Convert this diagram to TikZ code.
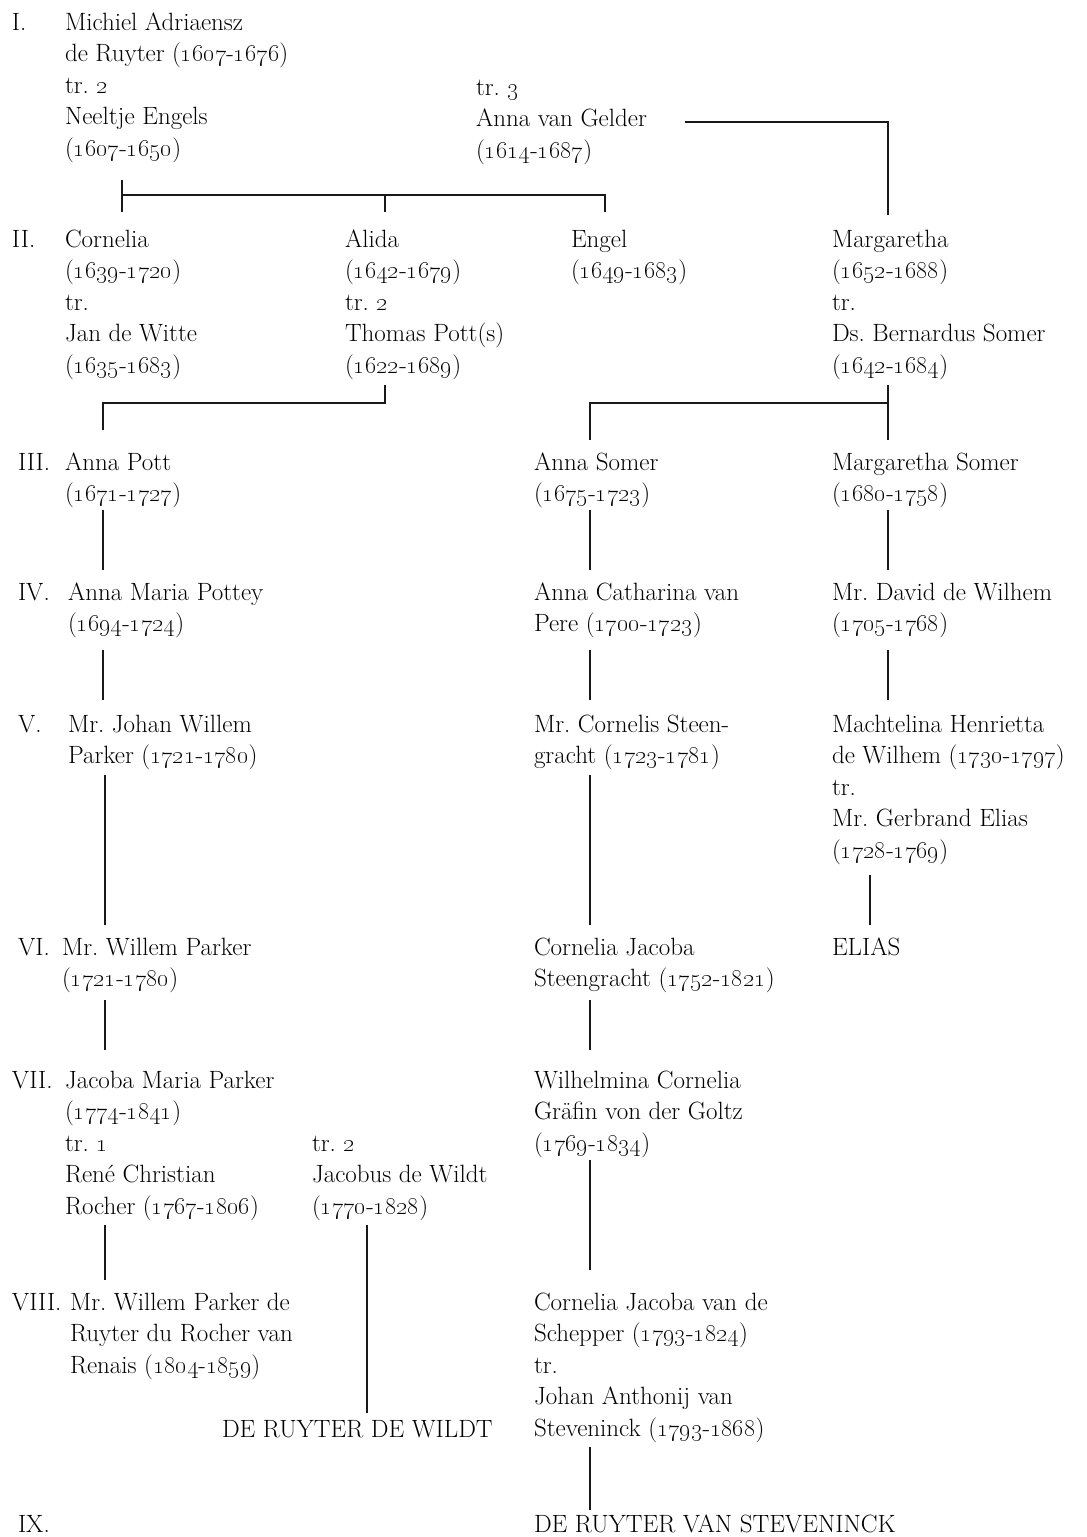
\documentclass[tikz,border=0pt]{standalone}
\begin{document}
\frenchspacing
\newcommand{\yrs}[2]{(\oldstylenums{#1}-\oldstylenums{#2})}
\newcommand{\osn}[1]{\oldstylenums{#1}}
\begin{tikzpicture}[x=1pt,y=-1pt,
  blk/.style={anchor=north west, inner sep=0pt, outer sep=0pt, align=left,
    font=\fontsize{25}{31.5}\selectfont\frenchspacing, text=black},
  ln/.style={line width=2.5pt, black!90}]
\useasboundingbox (0,0) rectangle (1087,1537);
% generation numerals
\node[blk] (g1) at (12,8) {\strut I.};
\node[blk] (g2) at (12,225) {\strut II.};
\node[blk] (g3) at (18,448) {\strut III.};
\node[blk] (g4) at (18,578) {\strut IV.};
\node[blk] (g5) at (18,710) {\strut V.};
\node[blk] (g6) at (18,933) {\strut VI.};
\node[blk] (g7) at (12,1066) {\strut VII.};
\node[blk] (g8) at (12,1288) {\strut VIII.};
\node[blk] (g9) at (18,1510) {\strut IX.};
% people
\node[blk] (michiel) at (65,8) {\strut Michiel Adriaensz\\de Ruyter \yrs{1607}{1676}\\tr.\ \osn{2}\\Neeltje Engels\\\yrs{1607}{1650}};
\node[blk] (gelder) at (476,73) {\strut tr.\ \osn{3}\\Anna van Gelder\\\yrs{1614}{1687}};
\node[blk] (cornelia) at (65,225) {\strut Cornelia\\\yrs{1639}{1720}\\tr.\\Jan de Witte\\\yrs{1635}{1683}};
\node[blk] (alida) at (345,225) {\strut Alida\\\yrs{1642}{1679}\\tr.\ \osn{2}\\Thomas Pott(s)\\\yrs{1622}{1689}};
\node[blk] (engel) at (571,225) {\strut Engel\\\yrs{1649}{1683}};
\node[blk] (marg) at (832,225) {\strut Margaretha\\\yrs{1652}{1688}\\tr.\\Ds.\ Bernardus Somer\\\yrs{1642}{1684}};
\node[blk] (annapott) at (65,448) {\strut Anna Pott\\\yrs{1671}{1727}};
\node[blk] (annasomer) at (534,448) {\strut Anna Somer\\\yrs{1675}{1723}};
\node[blk] (margsomer) at (832,448) {\strut Margaretha Somer\\\yrs{1680}{1758}};
\node[blk] (pottey) at (68,578) {\strut Anna Maria Pottey\\\yrs{1694}{1724}};
\node[blk] (catharina) at (534,578) {\strut Anna Catharina van\\Pere \yrs{1700}{1723}};
\node[blk] (david) at (832,578) {\strut Mr.\ David de Wilhem\\\yrs{1705}{1768}};
\node[blk] (johan) at (68,710) {\strut Mr.\ Johan Willem\\Parker \yrs{1721}{1780}};
\node[blk] (cornelis) at (534,710) {\strut Mr.\ Cornelis Steen-\\gracht \yrs{1723}{1781}};
\node[blk] (machtelina) at (832,710) {\strut Machtelina Henrietta\\de Wilhem \yrs{1730}{1797}\\tr.\\Mr.\ Gerbrand Elias\\\yrs{1728}{1769}};
\node[blk] (willem) at (62,933) {\strut Mr.\ Willem Parker\\\yrs{1721}{1780}};
\node[blk] (cjacoba) at (534,933) {\strut Cornelia Jacoba\\Steengracht \yrs{1752}{1821}};
\node[blk] (elias) at (832,933) {\strut ELIAS};
\node[blk] (jacoba) at (65,1066) {\strut Jacoba Maria Parker\\\yrs{1774}{1841}\\tr.\ \osn{1}\\Ren\'e Christian\\Rocher \yrs{1767}{1806}};
\node[blk] (wildt) at (312,1129) {\strut tr.\ \osn{2}\\Jacobus de Wildt\\\yrs{1770}{1828}};
\node[blk] (wilhelmina) at (534,1066) {\strut Wilhelmina Cornelia\\Gr\"afin von der Goltz\\\yrs{1769}{1834}};
\node[blk] (wpr) at (70,1288) {\strut Mr.\ Willem Parker de\\Ruyter du Rocher van\\Renais \yrs{1804}{1859}};
\node[blk] (schepper) at (534,1288) {\strut Cornelia Jacoba van de\\Schepper \yrs{1793}{1824}\\tr.\\Johan Anthonij van\\Steveninck \yrs{1793}{1868}};
\node[blk] (drdw) at (222,1415) {\strut DE RUYTER DE WILDT};
\node[blk] (drvs) at (534,1510) {\strut DE RUYTER VAN STEVENINCK};
% junction coordinates
\coordinate (gA) at (685,122);
\coordinate (gB) at (888,122);
\coordinate (mTop) at (888,215);
\coordinate (p1) at (122,180);
\coordinate (p1b) at (122,195);
\coordinate (p1c) at (122,212);
\coordinate (aTop) at (385,195);
\coordinate (aTopB) at (385,212);
\coordinate (eTop) at (605,195);
\coordinate (eTopB) at (605,212);
\coordinate (aBot) at (385,385);
\coordinate (aJ) at (385,403);
\coordinate (apJ) at (103,403);
\coordinate (apTop) at (103,430);
\coordinate (mBot) at (888,385);
\coordinate (mJ) at (888,403);
\coordinate (msTop) at (888,440);
\coordinate (asJ) at (590,403);
\coordinate (asTop) at (590,440);
% connectors
\draw[ln] (gA) -- (gB) -- (mTop);
\draw[ln] (p1) -- (p1c);
\draw[ln] (p1b) -- (eTop) -- (eTopB);
\draw[ln] (aTop) -- (aTopB);
\draw[ln] (aBot) -- (aJ) -- (apJ) -- (apTop);
\draw[ln] (mBot) -- (msTop);
\draw[ln] (mJ) -- (asJ) -- (asTop);
% single descent lines
\foreach \x/\a/\b in {103/510/570, 590/510/570, 888/510/570,
                      103/650/700, 590/650/700, 888/650/700,
                      105/775/925, 590/775/925, 870/875/925,
                      105/1000/1050, 590/1000/1050,
                      105/1225/1280, 367/1225/1413, 590/1160/1270,
                      590/1447/1510}
  \draw[ln] (\x,\a) -- (\x,\b);
\end{tikzpicture}
\end{document}
